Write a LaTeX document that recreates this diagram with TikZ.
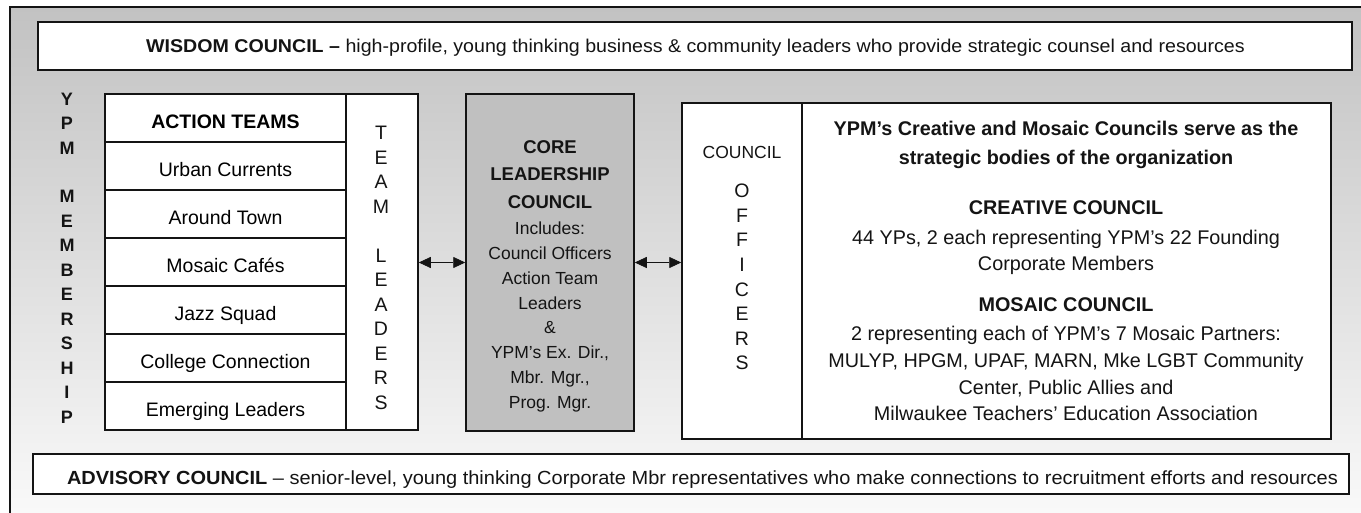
\documentclass[tikz,border=0pt]{standalone}
\usepackage{fontspec}
\setmainfont{Liberation Sans}
\newfontfamily\wisdomfont[FakeStretch=1.06]{Liberation Sans}
\newfontfamily\advisoryfont[FakeStretch=1.052]{Liberation Sans}
\usetikzlibrary{arrows.meta}
\definecolor{panelTop}{HTML}{C2C2C2}
\definecolor{panelBottom}{HTML}{FBFBFB}
\definecolor{coreGray}{HTML}{C0C0C0}
\definecolor{ink}{HTML}{141414}
\begin{document}
\begin{tikzpicture}[x=1pt,y=-1pt,
  box/.style={draw=ink, line width=1.5pt, fill=white, rectangle, inner sep=0pt},
  rowbox/.style={box, minimum width=241pt, minimum height=48pt,
    text height=20.5pt, text depth=0pt, font=\fontsize{19.5}{24}\selectfont},
  colbox/.style={box, minimum height=336pt},
  vletter/.style={inner sep=0pt, text=ink, font=\fontsize{19.5}{24}\selectfont},
  body/.style={inner sep=0pt, text=ink, align=center},
  conn/.style={draw=ink, line width=0.8pt,
    {Triangle[length=12pt,width=11pt]}-{Triangle[length=12pt,width=11pt]}}
]
\clip (0,0) rectangle (1361,513);
\fill[white] (0,0) rectangle (1361,513);
% shaded panel behind everything
\shade[top color=panelTop, bottom color=panelBottom] (10,7) rectangle (1380,530);
\draw[ink, line width=2pt] (10,530) -- (10,7) -- (1380,7);

% top band
\node[box, minimum width=1314pt, minimum height=48pt] (wisdom) at (695,46) {};
\node[body, anchor=base, font=\wisdomfont\fontsize{18.5}{22}\selectfont] (wisdomtext) at (695.5,52.7)
  {\textbf{WISDOM COUNCIL –} high-profile, young thinking business \& community leaders who provide strategic counsel and resources};
% bottom band
\node[box, minimum width=1316pt, minimum height=40pt] (advisory) at (691,474) {};
\node[body, anchor=base, font=\advisoryfont\fontsize{19}{22}\selectfont] (advisorytext) at (702.5,484.3)
  {\textbf{ADVISORY COUNCIL} – senior-level, young thinking Corporate Mbr representatives who make connections to recruitment efforts and resources};

% membership label
\foreach \ch/\k in {Y/0,P/1,M/2,M/4,E/5,M/6,B/7,E/8,R/9,S/10,H/11,I/12,P/13}
  \node[vletter, font=\fontsize{18}{24}\selectfont\bfseries] (ypm\k) at (67,{99+24.45*\k}) {\ch};

% action teams
\node[rowbox, font=\fontsize{19.5}{24}\selectfont\bfseries] (at0) at (225.5,118) {ACTION TEAMS};
\node[rowbox] (at1) at (225.5,166) {Urban Currents};
\node[rowbox] (at2) at (225.5,214) {Around Town};
\node[rowbox] (at3) at (225.5,262) {Mosaic Cafés};
\node[rowbox] (at4) at (225.5,310) {Jazz Squad};
\node[rowbox] (at5) at (225.5,358) {College Connection};
\node[rowbox] (at6) at (225.5,406) {Emerging Leaders};

% team leaders column
\node[colbox, minimum width=72pt] (tl) at (382,262) {};
\foreach \ch/\k in {T/0,E/1,A/2,M/3,L/5,E/6,A/7,D/8,E/9,R/10,S/11}
  \node[vletter] (tl\k) at (381,{133+24.5*\k}) {\ch};

% core leadership council
\node[box, fill=coreGray, minimum width=168pt, minimum height=337pt] (core) at (550,262.5) {};
\node[body, anchor=north, font=\fontsize{18.5}{27.5}\selectfont\bfseries] (coretitle) at (550,140.3)
  {CORE\\LEADERSHIP\\COUNCIL};
\node[body, anchor=north, font=\fontsize{17.5}{24.9}\selectfont] (corebody) at (550,221.5)
  {Includes:\\Council Officers\\Action Team\\Leaders\\\&\\YPM’s Ex. Dir.,\\Mbr. Mgr.,\\Prog. Mgr.};

% council officers column
\node[colbox, minimum width=120pt] (off) at (742,271) {};
\node[vletter, font=\fontsize{17.5}{24}\selectfont] (offhead) at (742,152) {COUNCIL};
\foreach \ch/\k in {O/0,F/1,F/2,I/3,C/4,E/5,R/6,S/7}
  \node[vletter] (off\k) at (742,{191+24.6*\k}) {\ch};

% strategic councils
\node[colbox, minimum width=529pt] (councils) at (1066.5,271) {};
\node[body, anchor=north, font=\fontsize{19.8}{29}\selectfont\bfseries] (ctitle) at (1066,121)
  {YPM’s Creative and Mosaic Councils serve as the\\strategic bodies of the organization};
\node[body, font=\fontsize{19.8}{24}\selectfont\bfseries] (creative) at (1066,208) {CREATIVE COUNCIL};
\node[body, anchor=north, font=\fontsize{19.8}{26}\selectfont] (creativebody) at (1066,230)
  {44 YPs, 2 each representing YPM’s 22 Founding\\Corporate Members};
\node[body, font=\fontsize{19.8}{24}\selectfont\bfseries] (mosaic) at (1066,305) {MOSAIC COUNCIL};
\node[body, anchor=north, font=\fontsize{19.8}{26.8}\selectfont] (mosaicbody) at (1066,326)
  {2 representing each of YPM’s 7 Mosaic Partners:\\MULYP, HPGM, UPAF, MARN, Mke LGBT Community\\Center, Public Allies and\\Milwaukee Teachers’ Education Association};

% two-way links
\draw[conn] (core.west -| tl.east) -- (core.west);
\draw[conn] (core.east) -- (core.east -| off.west);
\end{tikzpicture}
\end{document}
